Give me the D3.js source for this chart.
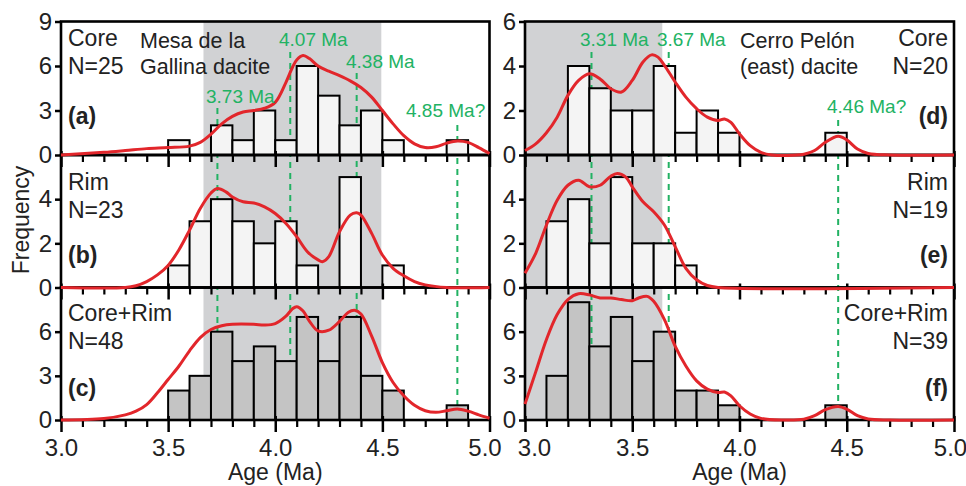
<!DOCTYPE html>
<html>
<head>
<meta charset="utf-8">
<script src="https://cdn.jsdelivr.net/npm/d3@7"></script>
<style>
  body { margin: 0; background: #fff; }
  svg { display: block; font-family: "Liberation Sans", Arial, sans-serif; }
</style>
</head>
<body>
<svg id="chart" width="966" height="486"></svg>
<script>
// bin starts (0.1 Ma wide)
const bins = [3.0, 3.1, 3.2, 3.3, 3.4, 3.5, 3.6, 3.7, 3.8, 3.9, 4.0, 4.1, 4.2, 4.3, 4.4, 4.5, 4.6, 4.7, 4.8, 4.9];

// Mesa de la Gallina dacite
const coreA = [0, 0, 0, 0, 0, 1, 0, 2, 1, 3, 1, 6, 4, 2, 3, 1, 0, 0, 1, 0];
const rimB  = [0, 0, 0, 0, 0, 1, 3, 4, 3, 2, 3, 1, 0, 5, 0, 1, 0, 0, 0, 0];
const allC  = [0, 0, 0, 0, 0, 2, 3, 6, 4, 5, 4, 7, 4, 7, 3, 2, 0, 0, 1, 0];
// Cerro Pelon (east) dacite
const coreD = [0, 0, 4, 3, 2, 2, 4, 1, 2, 1, 0, 0, 0, 0, 1, 0, 0, 0, 0, 0];
const rimE  = [0, 3, 4, 2, 5, 2, 2, 1, 0, 0, 0, 0, 0, 0, 0, 0, 0, 0, 0, 0];
const allF  = [0, 3, 8, 5, 7, 4, 6, 2, 2, 1, 0, 0, 0, 0, 1, 0, 0, 0, 0, 0];

// density curves: [age, frequency]
const kdeA = [[3.0,0],[3.2,0.18],[3.3,0.3],[3.4,0.43],[3.5,0.5],[3.6,0.6],[3.65,0.85],[3.7,1.4],[3.75,2.1],[3.8,2.6],[3.85,2.9],[3.9,3.0],[3.95,3.15],[4.0,3.55],[4.05,4.9],[4.08,5.9],[4.1,6.4],[4.13,6.7],[4.16,6.5],[4.2,6.0],[4.25,5.65],[4.3,5.35],[4.35,5.0],[4.4,4.55],[4.45,3.9],[4.5,3.0],[4.55,2.1],[4.6,1.3],[4.65,0.75],[4.7,0.5],[4.75,0.55],[4.8,0.8],[4.85,0.95],[4.9,0.85],[4.95,0.5],[5.0,0.1]];
const kdeB = [[3.0,0],[3.3,0],[3.35,0.08],[3.4,0.27],[3.45,0.57],[3.5,1.0],[3.55,1.7],[3.6,2.6],[3.65,3.58],[3.7,4.28],[3.73,4.48],[3.77,4.33],[3.8,4.1],[3.85,3.88],[3.9,3.83],[3.95,3.65],[4.0,3.35],[4.05,2.9],[4.1,2.3],[4.15,1.62],[4.2,1.25],[4.22,1.17],[4.25,1.4],[4.3,2.53],[4.35,3.28],[4.38,3.38],[4.4,3.28],[4.45,2.45],[4.5,1.47],[4.55,0.87],[4.6,0.53],[4.65,0.27],[4.7,0.12],[4.8,0],[5.0,0]];
const kdeC = [[3.0,0],[3.2,0.1],[3.3,0.35],[3.35,0.6],[3.4,1.05],[3.45,1.85],[3.5,2.75],[3.55,3.65],[3.6,4.7],[3.65,5.6],[3.7,6.15],[3.75,6.4],[3.8,6.5],[3.9,6.5],[3.95,6.45],[4.0,6.55],[4.05,7.05],[4.08,7.55],[4.1,7.7],[4.13,7.4],[4.16,6.7],[4.2,6.05],[4.25,6.1],[4.3,6.7],[4.34,7.3],[4.37,7.45],[4.4,7.2],[4.45,5.7],[4.5,3.9],[4.55,2.55],[4.6,1.65],[4.65,1.0],[4.7,0.63],[4.75,0.52],[4.8,0.63],[4.85,0.75],[4.9,0.6],[4.95,0.35],[5.0,0.12]];
const kdeD = [[3.0,0.2],[3.05,0.5],[3.1,1.0],[3.15,1.7],[3.2,2.68],[3.25,3.35],[3.3,3.65],[3.35,3.42],[3.4,2.98],[3.45,2.83],[3.5,3.35],[3.55,4.18],[3.59,4.5],[3.62,4.4],[3.65,4.03],[3.7,3.28],[3.75,2.6],[3.8,2.08],[3.85,1.7],[3.9,1.55],[3.93,1.62],[3.96,1.47],[4.0,0.95],[4.05,0.42],[4.1,0.12],[4.15,0],[4.3,0.03],[4.35,0.2],[4.4,0.57],[4.46,0.84],[4.5,0.68],[4.55,0.27],[4.6,0.07],[4.7,0],[5.0,0]];
const kdeE = [[3.0,0.65],[3.05,1.55],[3.1,2.83],[3.15,3.95],[3.2,4.63],[3.25,4.86],[3.3,4.56],[3.35,4.63],[3.4,5.04],[3.43,5.16],[3.47,5.0],[3.5,4.56],[3.55,3.88],[3.6,3.43],[3.65,2.83],[3.7,1.85],[3.75,0.87],[3.8,0.35],[3.85,0.09],[3.9,0],[5.0,0]];
const kdeF = [[3.0,1.08],[3.05,3.27],[3.1,5.47],[3.15,7.16],[3.2,8.18],[3.25,8.58],[3.3,8.5],[3.35,8.29],[3.4,8.29],[3.45,8.18],[3.5,8.1],[3.53,8.29],[3.57,8.4],[3.6,8.06],[3.65,6.82],[3.7,5.02],[3.75,3.67],[3.8,2.66],[3.85,2.1],[3.9,1.87],[3.93,1.9],[3.96,1.64],[4.0,0.97],[4.05,0.41],[4.1,0.11],[4.2,0],[4.3,0.05],[4.35,0.29],[4.4,0.7],[4.46,0.92],[4.5,0.74],[4.55,0.29],[4.6,0.07],[4.7,0],[5.0,0]];

// peak ages
const peaksLeft = [3.73, 4.07, 4.38, 4.85];
const peakLabelsLeft = ["3.73 Ma", "4.07 Ma", "4.38 Ma", "4.85 Ma?"];
const peaksRight = [3.31, 3.67, 4.46];
const peakLabelsRight = ["3.31 Ma", "3.67 Ma", "4.46 Ma?"];

// grey age windows
const windowLeft = [3.665, 4.495];
const windowRight = [3.0, 3.64];

const svg = d3.select('#chart');

const xL = d3.scaleLinear().domain([3, 5]).range([61, 489.5]);
const xR = d3.scaleLinear().domain([3, 5]).range([525, 954]);

const rows = [[21.5, 155], [155, 287.5], [287.5, 420]];

const panels = [
  { x: xL, row: 0, max: 9, ticks: [0, 3, 6, 9], counts: coreA, kde: kdeA, fill: '#f4f4f4',
    lines: ['Core', 'N=25'], tag: '(a)', side: 'left', ty: [46, 73.5], tagY: 124 },
  { x: xL, row: 1, max: 6, ticks: [0, 2, 4], counts: rimB, kde: kdeB, fill: '#f4f4f4',
    lines: ['Rim', 'N=23'], tag: '(b)', side: 'left', ty: [190, 218], tagY: 263 },
  { x: xL, row: 2, max: 9, ticks: [0, 3, 6], counts: allC, kde: kdeC, fill: '#c4c4c4',
    lines: ['Core+Rim', 'N=48'], tag: '(c)', side: 'left', ty: [321, 349], tagY: 396 },
  { x: xR, row: 0, max: 6, ticks: [0, 2, 4, 6], counts: coreD, kde: kdeD, fill: '#f4f4f4',
    lines: ['Core', 'N=20'], tag: '(d)', side: 'right', ty: [46, 73.5], tagY: 124 },
  { x: xR, row: 1, max: 6, ticks: [0, 2, 4], counts: rimE, kde: kdeE, fill: '#f4f4f4',
    lines: ['Rim', 'N=19'], tag: '(e)', side: 'right', ty: [190, 218], tagY: 263 },
  { x: xR, row: 2, max: 9, ticks: [0, 3, 6], counts: allF, kde: kdeF, fill: '#c4c4c4',
    lines: ['Core+Rim', 'N=39'], tag: '(f)', side: 'right', ty: [321, 349], tagY: 396 }
];
panels.forEach(p => {
  p.y = d3.scaleLinear().domain([0, p.max]).range([rows[p.row][1], rows[p.row][0]]);
});

const green = '#22b263';
const red = '#e2262b';
const ink = '#222';

// shaded windows
svg.append('rect')
  .attr('x', xL(windowLeft[0])).attr('y', rows[0][0])
  .attr('width', xL(windowLeft[1]) - xL(windowLeft[0]))
  .attr('height', rows[2][1] - rows[0][0])
  .attr('fill', '#d1d2d4');
svg.append('rect')
  .attr('x', xR(windowRight[0])).attr('y', rows[0][0])
  .attr('width', xR(windowRight[1]) - xR(windowRight[0]))
  .attr('height', rows[2][1] - rows[0][0])
  .attr('fill', '#d1d2d4');

// dashed peak lines
const startLeft = [108, 52, 73, 125];
const startRight = [52, 52, 120];
svg.append('g').selectAll('line')
  .data(peaksLeft).enter().append('line')
  .attr('x1', d => xL(d)).attr('x2', d => xL(d))
  .attr('y1', (d, i) => startLeft[i]).attr('y2', rows[2][1])
  .attr('stroke', green).attr('stroke-width', 2).attr('stroke-dasharray', '6,5');
svg.append('g').selectAll('line')
  .data(peaksRight).enter().append('line')
  .attr('x1', d => xR(d)).attr('x2', d => xR(d))
  .attr('y1', (d, i) => startRight[i]).attr('y2', rows[2][1])
  .attr('stroke', green).attr('stroke-width', 2).attr('stroke-dasharray', '6,5');

// bars
panels.forEach(p => {
  const data = bins.map((b, i) => ({ b: b, n: p.counts[i] })).filter(d => d.n > 0);
  svg.append('g').selectAll('rect')
    .data(data).enter().append('rect')
    .attr('x', d => p.x(d.b))
    .attr('y', d => p.y(d.n))
    .attr('width', d => p.x(d.b + 0.1) - p.x(d.b))
    .attr('height', d => p.y(0) - p.y(d.n))
    .attr('fill', p.fill)
    .attr('stroke', '#000')
    .attr('stroke-width', 2);
});

// axes and frames
const majors = [3.0, 3.5, 4.0, 4.5, 5.0];
const minors = d3.range(31, 50).map(v => v / 10).filter(v => majors.indexOf(v) < 0);
panels.forEach(p => {
  const [y0, y1] = rows[p.row];
  // minor x ticks
  svg.append('g')
    .attr('transform', `translate(0,${y1})`)
    .call(d3.axisBottom(p.x).tickValues(minors).tickSize(7).tickFormat(''))
    .call(g => g.select('.domain').remove())
    .call(g => g.selectAll('line').attr('stroke', '#000').attr('stroke-width', 2.2));
  // major x ticks, crossing the axis
  const gx = svg.append('g')
    .attr('transform', `translate(0,${y1})`)
    .call(d3.axisBottom(p.x).tickValues(majors).tickSizeInner(12).tickSizeOuter(0)
      .tickPadding(7).tickFormat(d3.format('.1f')))
    .call(g => g.select('.domain').remove())
    .call(g => g.selectAll('line').attr('y1', -4).attr('stroke', '#000').attr('stroke-width', 2.5));
  gx.selectAll('text')
    .attr('fill', ink).style('font-size', '24px')
    .style('display', p.row === 2 ? null : 'none')
    .attr('dx', d => {
      if (p.side === 'left') return d === 5 ? -5 : 0;
      return d === 3 ? 9 : (d === 5 ? -4 : 0);
    });

  // y ticks
  svg.append('g')
    .attr('transform', `translate(${p.x(3)},0)`)
    .call(d3.axisLeft(p.y).tickValues(p.ticks).tickFormat(d3.format('d')).tickSize(6).tickPadding(3))
    .call(g => g.select('.domain').remove())
    .call(g => g.selectAll('line').attr('stroke', '#000').attr('stroke-width', 2.5))
    .call(g => g.selectAll('text').attr('fill', ink).style('font-size', '24px'));

  // frame
  svg.append('rect')
    .attr('x', p.x(3)).attr('y', y0)
    .attr('width', p.x(5) - p.x(3)).attr('height', y1 - y0)
    .attr('fill', 'none').attr('stroke', '#000').attr('stroke-width', 2.6);
});

// density curves
const line = d3.line().curve(d3.curveCatmullRom.alpha(0.5));
panels.forEach(p => {
  svg.append('path')
    .attr('d', line.x(d => p.x(d[0])).y(d => p.y(d[1]))(p.kde))
    .attr('fill', 'none')
    .attr('stroke', red)
    .attr('stroke-width', 3)
    .attr('stroke-linejoin', 'round');
});

// panel labels
panels.forEach(p => {
  const left = p.side === 'left';
  const tx = left ? 68 : 948;
  const anchor = left ? 'start' : 'end';
  p.lines.forEach((t, i) => {
    svg.append('text')
      .attr('x', tx).attr('y', p.ty[i])
      .attr('text-anchor', anchor)
      .attr('fill', ink).style('font-size', '23px')
      .text(t);
  });
  svg.append('text')
    .attr('x', tx).attr('y', p.tagY)
    .attr('text-anchor', anchor)
    .attr('fill', ink).style('font-size', '23px').style('font-weight', 'bold')
    .text(p.tag);
});

// site names
const siteLeft = ['Mesa de la', 'Gallina dacite'];
const siteRight = ['Cerro Pelón', '(east) dacite'];
siteLeft.forEach((t, i) => {
  svg.append('text').attr('x', 140).attr('y', [48, 74][i])
    .attr('fill', ink).style('font-size', '21.5px').text(t);
});
siteRight.forEach((t, i) => {
  svg.append('text').attr('x', 740).attr('y', [48, 74][i])
    .attr('fill', ink).style('font-size', '21.5px').text(t);
});

// peak labels
const labelPosLeft = [[206, 102.5], [279, 45.5], [346, 67.5], [406, 116.5]];
const labelPosRight = [[580, 45.5], [657, 45.5], [827, 113]];
peakLabelsLeft.forEach((t, i) => {
  svg.append('text').attr('x', labelPosLeft[i][0]).attr('y', labelPosLeft[i][1])
    .attr('fill', green).style('font-size', '19px').text(t);
});
peakLabelsRight.forEach((t, i) => {
  svg.append('text').attr('x', labelPosRight[i][0]).attr('y', labelPosRight[i][1])
    .attr('fill', green).style('font-size', '19px').text(t);
});

// axis titles
svg.append('text')
  .attr('transform', 'translate(29,220) rotate(-90)')
  .attr('text-anchor', 'middle')
  .attr('fill', ink).style('font-size', '23px')
  .text('Frequency');
svg.append('text')
  .attr('x', xL(4)).attr('y', 479.5)
  .attr('text-anchor', 'middle')
  .attr('fill', ink).style('font-size', '23px')
  .text('Age (Ma)');
svg.append('text')
  .attr('x', xR(4)).attr('y', 479.5)
  .attr('text-anchor', 'middle')
  .attr('fill', ink).style('font-size', '23px')
  .text('Age (Ma)');
</script>
</body>
</html>
